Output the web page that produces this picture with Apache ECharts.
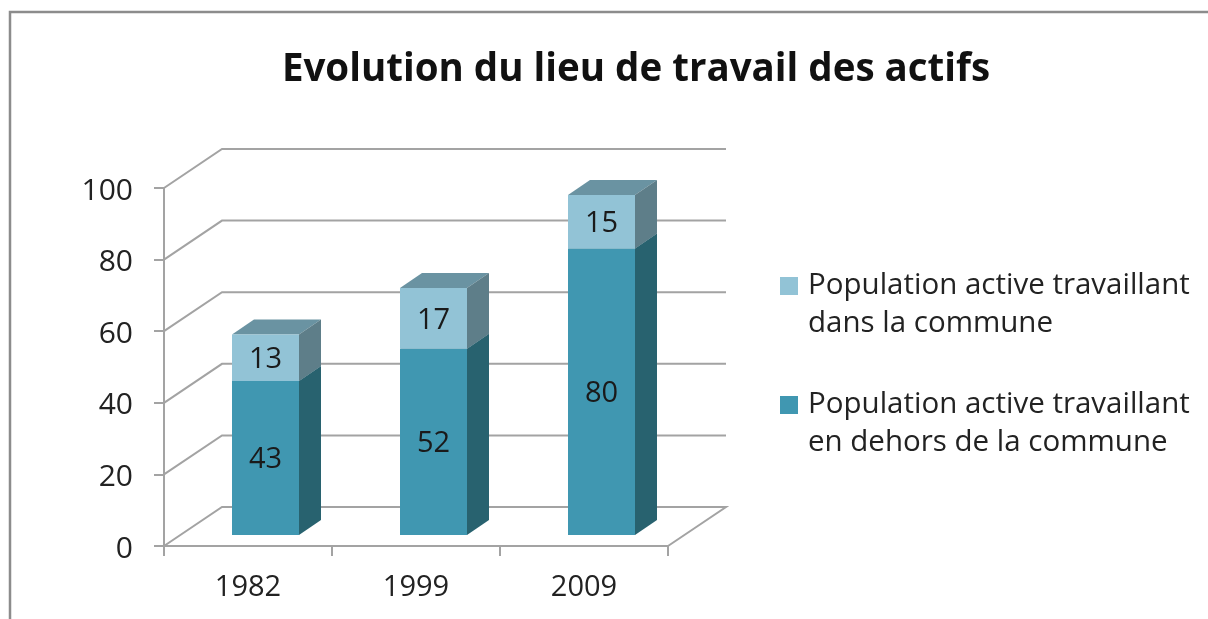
<!DOCTYPE html>
<html><head><meta charset="utf-8">
<script src="https://cdn.jsdelivr.net/npm/echarts@6/dist/echarts.min.js"></script>
<style>html,body{margin:0;padding:0;background:#fff}#c{width:1208px;height:619px;filter:blur(0.45px)}</style>
</head><body><div id="c"></div>
<script>
const categories = ['1982', '1999', '2009'];
const outside = [43, 52, 80];
const inside = [13, 17, 15];
const yTicks = [0, 20, 40, 60, 80, 100];
const nameOutside = 'Population active travaillant\nen dehors de la commune';
const nameInside = 'Population active travaillant\ndans la commune';

const FONT = '"Open Sans"';
const AXIS = '#a3a3a3';
const WALL = {dx: 58, dy: -39};
const BAR = {w: 67, dx: 22, dy: -15, shiftX: 17.5, shiftY: -11};

const barRender = (front, top, side) => (params, api) => {
  const c = api.value(0), base = api.value(1), val = api.value(2);
  const p0 = api.coord([c, base]), p1 = api.coord([c, base + val]);
  const x0 = p0[0] + BAR.shiftX - BAR.w / 2, x1 = x0 + BAR.w;
  const y0 = p0[1] + BAR.shiftY, y1 = p1[1] + BAR.shiftY;
  const d = BAR.dx, e = BAR.dy;
  return {type: 'group', children: [
    {type: 'polygon', shape: {points: [[x0, y1], [x1, y1], [x1 + d, y1 + e], [x0 + d, y1 + e]]}, style: {fill: top}},
    {type: 'polygon', shape: {points: [[x1, y0], [x1 + d, y0 + e], [x1 + d, y1 + e], [x1, y1]]}, style: {fill: side}},
    {type: 'rect', shape: {x: x0, y: y1, width: BAR.w, height: y0 - y1}, style: {fill: front}},
    {type: 'text', style: {x: (x0 + x1) / 2, y: (y0 + y1) / 2 + 2, text: String(val), align: 'center', verticalAlign: 'middle',
      font: '29px ' + FONT, fill: '#1a1a1a'}}
  ]};
};

const wallRender = (params, api) => {
  const cs = params.coordSys, y = api.coord([0, api.value(0)])[1];
  const x = cs.x, r = cs.x + cs.width;
  const v = api.value(0);
  const pts = v === 0
    ? [[x, y], [x + WALL.dx, y + WALL.dy], [r + WALL.dx, y + WALL.dy], [r, y]]
    : [[x, y], [x + WALL.dx, y + WALL.dy], [r + WALL.dx, y + WALL.dy]];
  return {type: 'polyline', shape: {points: pts}, style: {stroke: AXIS, lineWidth: 2, fill: 'none'}};
};

const chart = echarts.init(document.getElementById('c'), null, {renderer: 'canvas'});
chart.setOption({
  animation: false,
  backgroundColor: '#fff',
  title: {text: 'Evolution du lieu de travail des actifs', left: 631, top: 46, textAlign: 'center',
    textStyle: {fontFamily: FONT, fontWeight: 'bold', fontSize: 38.5, color: '#111'}},
  graphic: [{type: 'polyline', silent: true, shape: {points: [[10, 619], [10, 12], [1208, 12]]},
    style: {stroke: '#8c8c8c', lineWidth: 2.5, fill: 'none'}}],
  legend: {
    orient: 'vertical', left: 780, top: 229, padding: 0, itemWidth: 18, itemHeight: 18, itemGap: 5, selectedMode: false,
    icon: 'rect',
    data: [nameInside, nameOutside],
    formatter: name => ' \n' + name,
    textStyle: {fontFamily: FONT, fontSize: 29.5, lineHeight: 38, color: '#222', padding: [0, 0, 0, 5]}
  },
  grid: {left: 164, top: 188, width: 504, height: 358},
  xAxis: {type: 'category', data: categories,
    axisLine: {lineStyle: {color: AXIS, width: 2}},
    axisTick: {show: true, length: 10, lineStyle: {color: AXIS, width: 2}},
    axisLabel: {fontFamily: FONT, fontSize: 29, color: '#222', margin: 27}},
  yAxis: {type: 'value', min: 0, max: 100, interval: 20,
    axisLine: {show: true, lineStyle: {color: AXIS, width: 2}},
    axisTick: {show: true, length: 10, lineStyle: {color: AXIS, width: 2}},
    axisLabel: {fontFamily: FONT, fontSize: 30, color: '#222', margin: 31, verticalAlign: 'top', lineHeight: 6},
    splitLine: {show: false}},
  series: [
    {type: 'custom', name: 'wall', silent: true, z: 1, renderItem: wallRender, encode: {y: 0},
      data: yTicks.map(v => [v])},
    {type: 'custom', name: nameOutside, z: 2, renderItem: barRender('#4097B1', '#6A93A2', '#28626F'),
      itemStyle: {color: '#4097B1'}, encode: {x: 0, y: 2},
      data: outside.map((v, i) => [i, 0, v])},
    {type: 'custom', name: nameInside, z: 3, renderItem: barRender('#92C3D6', '#6A93A2', '#5E7E89'),
      itemStyle: {color: '#92C3D6'}, encode: {x: 0, y: 2},
      data: inside.map((v, i) => [i, outside[i], v])}
  ]
});
</script></body></html>
